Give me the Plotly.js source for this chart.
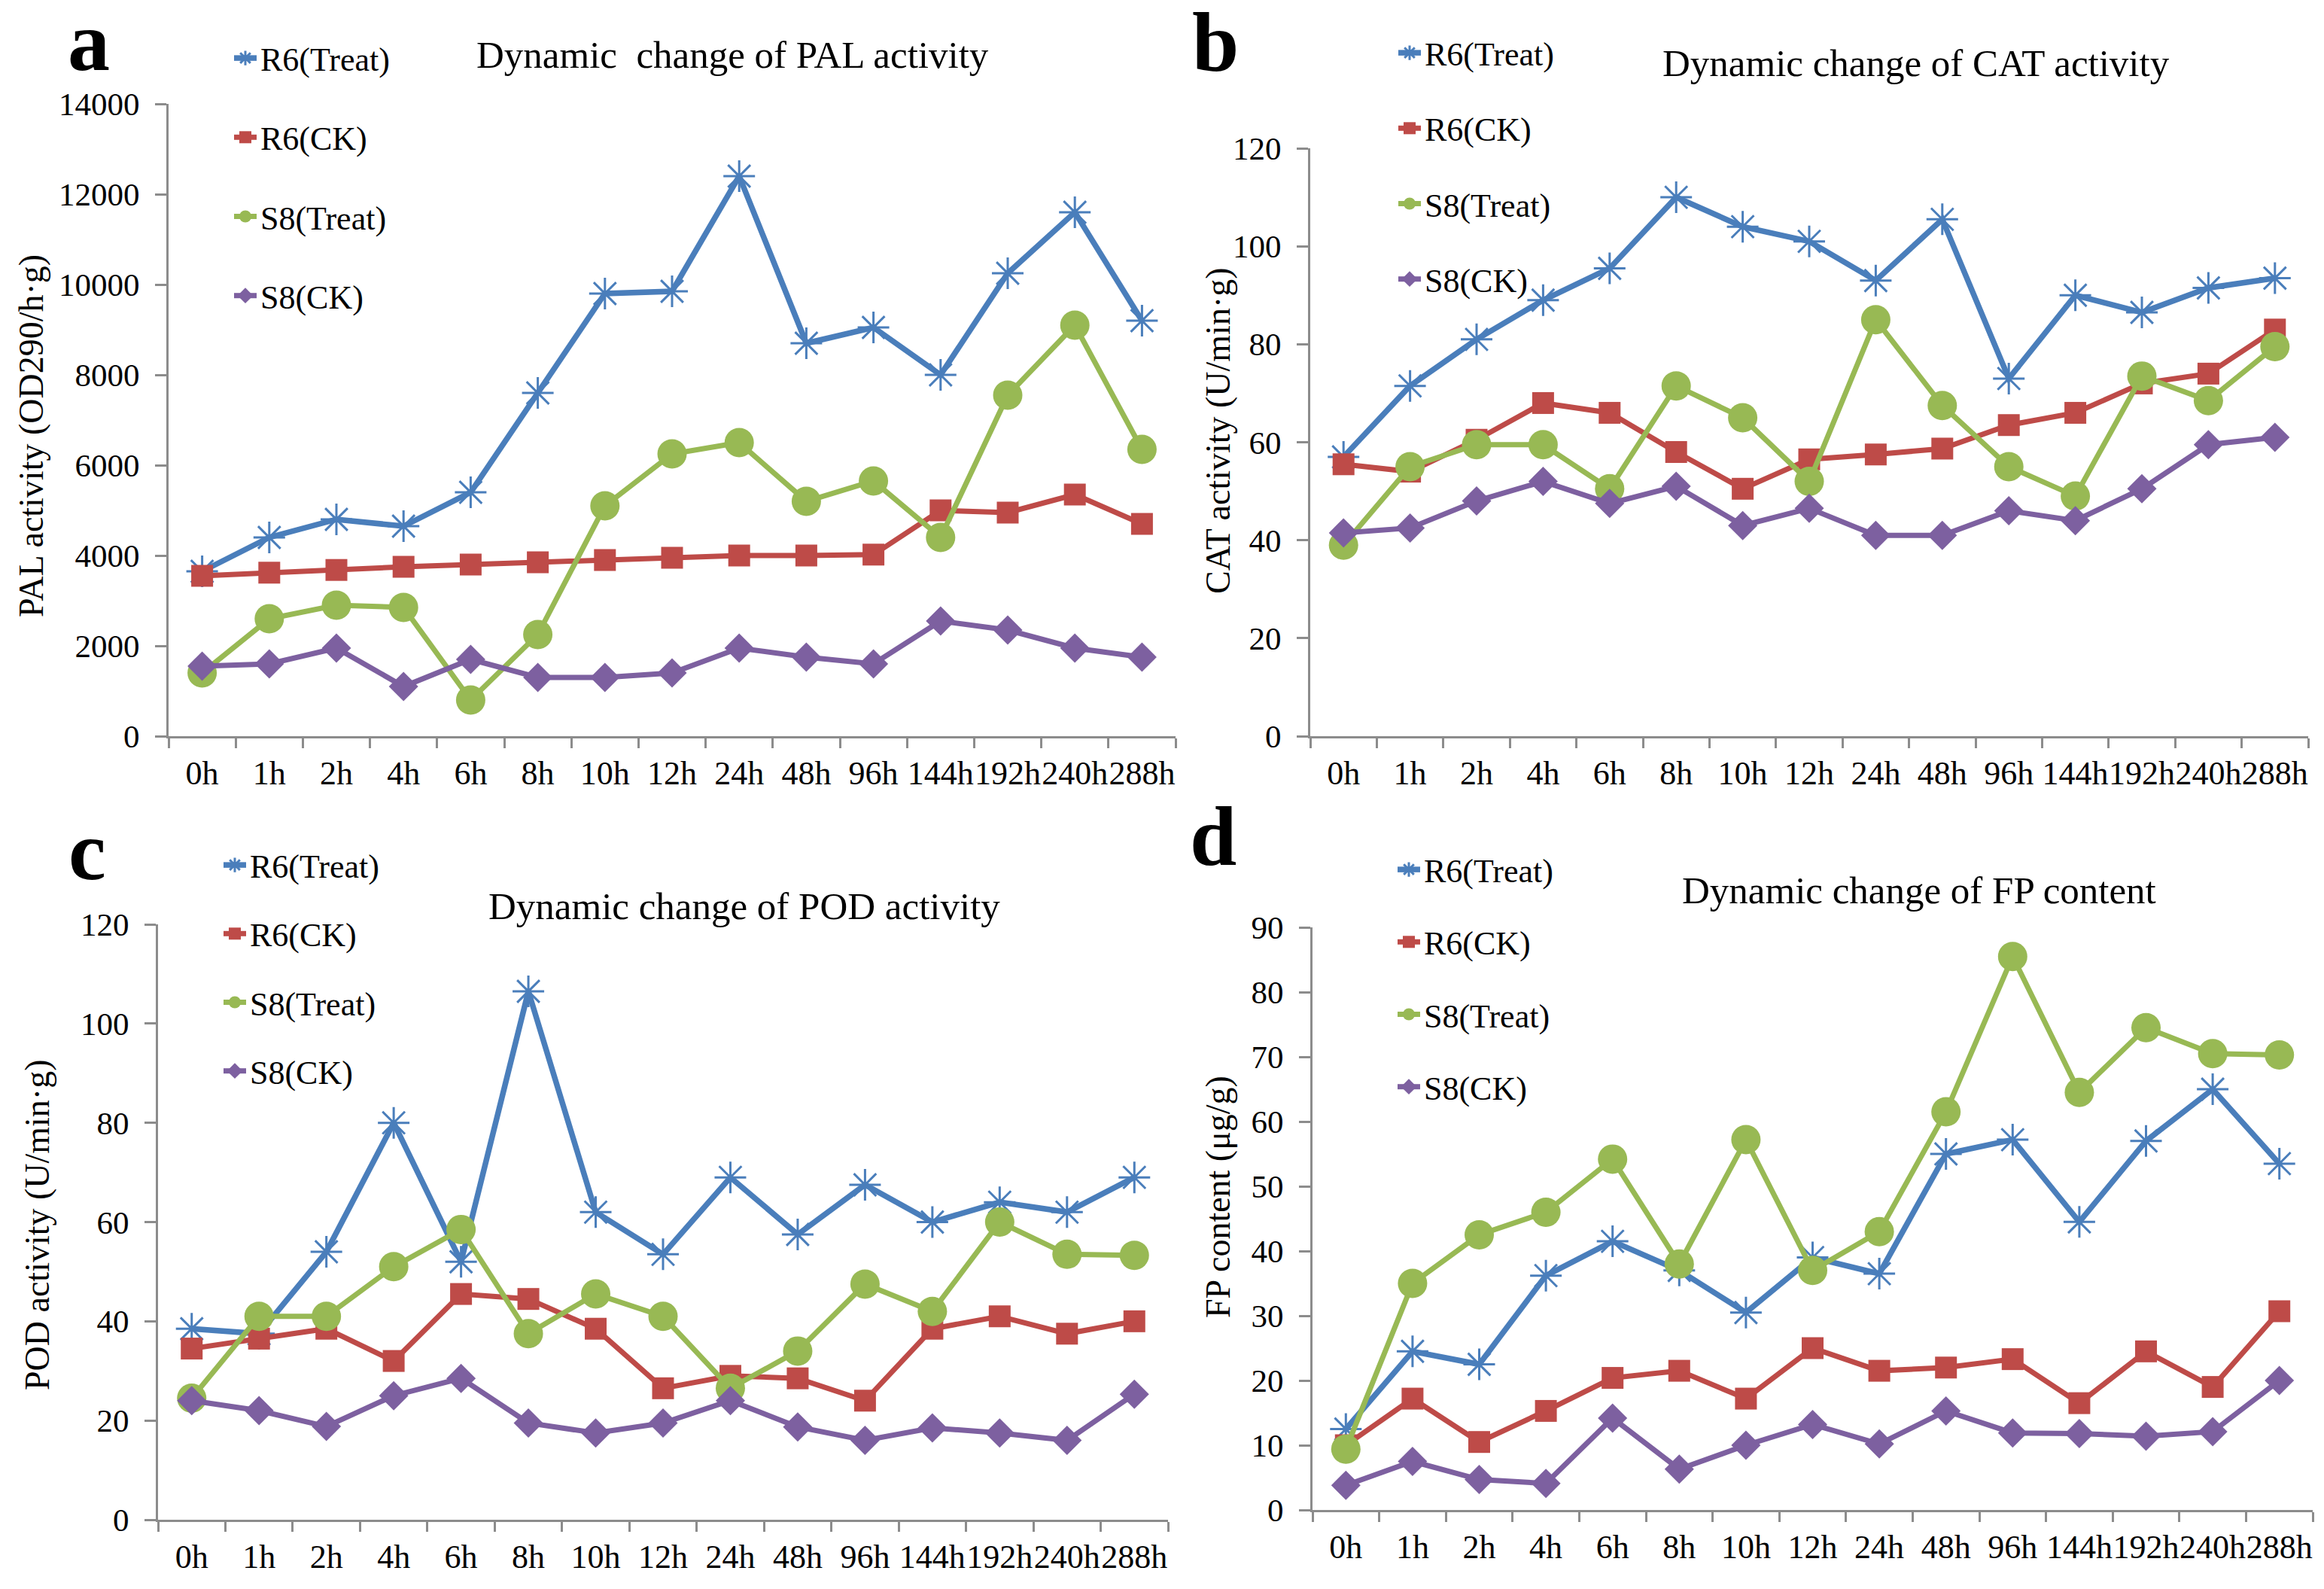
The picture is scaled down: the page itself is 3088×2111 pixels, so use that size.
<!DOCTYPE html>
<html>
<head>
<meta charset="utf-8">
<script src="https://cdn.plot.ly/plotly-3.0.1.min.js"></script>
<style>html,body{margin:0;padding:0;background:#fff;}#chart{width:3088px;height:2111px;}</style>
</head>
<body>
<div id="chart"></div>
<script>
// ---- data ----
var timeLabels = ["0h","1h","2h","4h","6h","8h","10h","12h","24h","48h","96h","144h","192h","240h","288h"];
var seriesNames = ["R6(Treat)","R6(CK)","S8(Treat)","S8(CK)"];

var palR6Treat = [3650,4400,4800,4650,5400,7600,9800,9850,12400,8700,9050,8000,10250,11600,9200];
var palR6CK    = [3550,3620,3680,3750,3800,3850,3900,3950,4000,4000,4020,5000,4950,5350,4700];
var palS8Treat = [1400,2600,2900,2850,800,2250,5100,6250,6500,5200,5650,4400,7550,9100,6350];
var palS8CK    = [1550,1600,1950,1100,1700,1300,1300,1400,1950,1750,1600,2550,2350,1950,1750];

var catR6Treat = [57,71.5,81,89,95.5,110,104,101,93,105.5,73,90,86.5,91.5,93.5];
var catR6CK    = [55.5,54,60.5,68,66,58,50.5,56.5,57.5,58.7,63.5,66,72,74,83];
var catS8Treat = [39,55,59.5,59.5,50.5,71.5,65,52,85,67.5,55,49,73.5,68.5,79.5];
var catS8CK    = [41.5,42.5,48,52,47.5,51,43,46.5,41,41,46,44,50.5,59.5,61];

var podR6Treat = [38.5,37.5,54,80,52,106.5,62,53.5,69,57.5,67.5,60,64,62,69];
var podR6CK    = [34.5,36.5,38.5,32,45.5,44.5,38.5,26.5,29,28.5,24,38.5,41,37.5,40];
var podS8Treat = [24.5,41,41,51,58.5,37.5,45.5,41,26.5,34,47.5,42,60,53.5,53.3];
var podS8CK    = [24,22,18.8,25,28.5,19.5,17.5,19.5,24,18.7,16,18.5,17.5,16,25.3];

var fpR6Treat = [12.5,24.5,22.5,36.2,41.5,37,30.5,39,36.5,55,57.2,44.5,57,65,53.5];
var fpR6CK    = [10,17.2,10.5,15.3,20.4,21.5,17.2,25,21.5,22,23.3,16.5,24.5,19,30.7];
var fpS8Treat = [9.4,35,42.5,46,54.2,38,57.2,37,43,61.5,85.5,64.5,74.5,70.5,70.3];
var fpS8CK    = [3.8,7.5,4.7,4.1,14.2,6.3,10,13.2,10.2,15.3,11.9,11.8,11.4,12.1,20];

var panelTitles = ["Dynamic  change of PAL activity","Dynamic change of CAT activity","Dynamic change of POD activity","Dynamic change of FP content"];
var yTitles = ["PAL activity (OD290/h\u00b7g)","CAT activity (U/min\u00b7g)","POD activity (U/min\u00b7g)","FP content (\u03bcg/g)"];
var panelLetters = ["a","b","c","d"];
var yTicks = [[0,2000,4000,6000,8000,10000,12000,14000],[0,20,40,60,80,100,120],[0,20,40,60,80,100,120],[0,10,20,30,40,50,60,70,80,90]];

// ---- styling / layout ----
var W = 3088, H = 2111;
var FONT = "'Liberation Serif', 'Times New Roman', serif";
var colors = ["#4A7EBB","#BE4B48","#98B954","#7D60A0"];
var symbols = ["asterisk-open","square","circle","diamond"];
var msizes = [35,29,39,30];
var lwidths = [7.5,7,7,7];

// pixel boxes of each plot area: [left, right, top, bottom]
var boxes = [[224,1562,138,978],[1741,3067,197,978],[210,1552,1228,2019],[1744,3073,1232,2006]];
var legendPos = [[306,42],[1853,35],[292,1114],[1852,1120]];
var titlePos = [[973,73],[2546,84],[989,1204],[2550,1183]];
var letterPos = [[118,55],[1615,56],[116,1130],[1612,1111]];
var yTitlePos = [[41,579],[1618,572],[49,1627],[1618,1590]];
var legendGap = [45,40,31,36];

var panels = [
  [palR6Treat,palR6CK,palS8Treat,palS8CK],
  [catR6Treat,catR6CK,catS8Treat,catS8CK],
  [podR6Treat,podR6CK,podS8Treat,podS8CK],
  [fpR6Treat,fpR6CK,fpS8Treat,fpS8CK]
];

var traces = [];
var layout = {
  width: W, height: H,
  margin: {l:0,r:0,t:0,b:0},
  paper_bgcolor: "#ffffff",
  plot_bgcolor: "rgba(0,0,0,0)",
  showlegend: true,
  font: {family: FONT, color: "#000000", size: 44},
  annotations: []
};

panels.forEach(function(series, p){
  var n = p + 1;
  var xa = "x" + (n === 1 ? "" : n), ya = "y" + (n === 1 ? "" : n);
  var xKey = "xaxis" + (n === 1 ? "" : n), yKey = "yaxis" + (n === 1 ? "" : n);
  var lKey = "legend" + (n === 1 ? "" : n);
  var b = boxes[p];
  series.forEach(function(vals, s){
    traces.push({
      type: "scatter", mode: "lines+markers",
      x: timeLabels, y: vals,
      name: seriesNames[s],
      xaxis: xa, yaxis: ya,
      legend: lKey,
      legendgroup: "p" + n + "s" + s,
      line: {color: colors[s], width: lwidths[s]},
      marker: {symbol: symbols[s], size: msizes[s], color: colors[s],
               line: {color: colors[s], width: s === 0 ? 3 : 0}},
      cliponaxis: false
    });
  });
  layout[xKey] = {
    domain: [b[0]/W, b[1]/W], anchor: ya,
    type: "category", range: [-0.5, 14.5],
    showgrid: false, zeroline: false,
    showline: true, linecolor: "#8c8c8c", linewidth: 3,
    ticks: "outside", tickson: "boundaries", ticklen: 13, tickwidth: 3, tickcolor: "#8c8c8c",
    tickangle: 0, ticklabelstandoff: 8,
    tickfont: {family: FONT, size: 44, color: "#000"},
    fixedrange: true
  };
  var yt = yTicks[p];
  layout[yKey] = {
    domain: [1 - b[3]/H, 1 - b[2]/H], anchor: xa,
    range: [yt[0], yt[yt.length-1]],
    tickvals: yt, tickformat: "d",
    showgrid: false, zeroline: false,
    showline: true, linecolor: "#8c8c8c", linewidth: 3,
    ticks: "outside", ticklen: 15, tickwidth: 3, tickcolor: "#8c8c8c",
    ticklabelstandoff: 12,
    tickfont: {family: FONT, size: 43, color: "#000"},
    fixedrange: true
  };
  layout[lKey] = {
    x: legendPos[p][0]/W, y: 1 - legendPos[p][1]/H,
    xanchor: "left", yanchor: "top",
    bgcolor: "rgba(0,0,0,0)", borderwidth: 0,
    traceorder: "grouped", tracegroupgap: legendGap[p],
    font: {family: FONT, size: 44, color: "#000"}
  };
  layout.annotations.push({
    xref: "paper", yref: "paper", x: titlePos[p][0]/W, y: 1 - titlePos[p][1]/H,
    xanchor: "center", yanchor: "middle", showarrow: false,
    text: panelTitles[p], font: {family: FONT, size: 51, color: "#000"}
  });
  layout.annotations.push({
    xref: "paper", yref: "paper", x: letterPos[p][0]/W, y: 1 - letterPos[p][1]/H,
    xanchor: "center", yanchor: "middle", showarrow: false,
    text: "<b>" + panelLetters[p] + "</b>", font: {family: FONT, size: 112, color: "#000"}
  });
  layout.annotations.push({
    xref: "paper", yref: "paper", x: yTitlePos[p][0]/W, y: 1 - yTitlePos[p][1]/H,
    xanchor: "center", yanchor: "middle", showarrow: false, textangle: -90,
    text: yTitles[p], font: {family: FONT, size: 46, color: "#000"}
  });
});

Plotly.newPlot("chart", traces, layout, {displayModeBar: false, staticPlot: true});
</script>
</body>
</html>
